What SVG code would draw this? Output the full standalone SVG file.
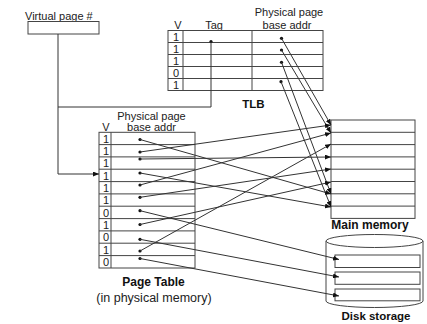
<svg xmlns="http://www.w3.org/2000/svg" width="427" height="324" viewBox="0 0 427 324">
<defs>
<style>
.box{fill:#fff;stroke:#444;stroke-width:1}
.ln{fill:none;stroke:#444;stroke-width:1}
.cn{fill:none;stroke:#333;stroke-width:1}
.t{font-family:"Liberation Sans",Arial,sans-serif;font-size:11px;fill:#222}
.b{font-family:"Liberation Sans",Arial,sans-serif;font-weight:bold;font-size:12px;fill:#111}
.m{text-anchor:middle}
.d{fill:#111}
</style>
<marker id="ah" markerUnits="userSpaceOnUse" markerWidth="6" markerHeight="5" refX="6" refY="2.5" orient="auto">
<path d="M0,0 L6,2.5 L0,5 z" fill="#111"/>
</marker>
</defs>
<rect width="427" height="324" fill="#fff"/>

<g id="virtual-page">
<text class="t" x="25" y="19.5">Virtual page #</text>
<rect class="box" x="28" y="21.5" width="71" height="12.5"/>
</g>

<g id="tlb">
<text class="t m" x="178" y="28.5">V</text>
<text class="t m" x="214" y="28.5">Tag</text>
<text class="t m" x="289" y="16">Physical page</text>
<text class="t m" x="287" y="28.5">base addr</text>
<rect class="box" x="168" y="30.5" width="155" height="60"/>
<path class="ln" d="M168,42.5H323M168,54.5H323M168,66.5H323M168,78.5H323M183,30.5V90.5M252,30.5V90.5"/>
<text class="t m" x="176" y="41">1</text>
<text class="t m" x="176" y="53">1</text>
<text class="t m" x="176" y="65">1</text>
<text class="t m" x="176" y="77">0</text>
<text class="t m" x="176" y="89">1</text>
<circle class="d" cx="211" cy="41.5" r="1.6"/>
<circle class="d" cx="281.5" cy="38.3" r="1.6"/>
<circle class="d" cx="281.5" cy="50" r="1.6"/>
<circle class="d" cx="281.5" cy="62.3" r="1.6"/>
<circle class="d" cx="281" cy="81.7" r="1.6"/>
<text class="b m" x="253.5" y="107.5" style="font-size:11.5px">TLB</text>
</g>

<g id="page-table">
<text class="t m" x="151.5" y="119.5">Physical page</text>
<text class="t m" x="151.5" y="130.5">base addr</text>
<text class="t m" x="106" y="130.5">V</text>
<rect class="box" x="99" y="132.3" width="96" height="135.7"/>
<path class="ln" d="M99,144.6H195M99,156.9H195M99,169.2H195M99,181.6H195M99,193.9H195M99,206.2H195M99,218.6H195M99,230.9H195M99,243.2H195M99,255.6H195M111,132.3V268"/>
<text class="t m" x="106" y="142.6">1</text>
<text class="t m" x="106" y="154.9">1</text>
<text class="t m" x="106" y="167.2">1</text>
<text class="t m" x="106" y="179.6">1</text>
<text class="t m" x="106" y="191.9">1</text>
<text class="t m" x="106" y="204.2">1</text>
<text class="t m" x="106" y="216.6">0</text>
<text class="t m" x="106" y="228.9">1</text>
<text class="t m" x="106" y="241.2">0</text>
<text class="t m" x="106" y="253.6">1</text>
<text class="t m" x="106" y="265.9">0</text>
<circle class="d" cx="140" cy="139.5" r="1.6"/>
<circle class="d" cx="140" cy="152" r="1.6"/>
<circle class="d" cx="140" cy="159" r="1.6"/>
<circle class="d" cx="140" cy="173" r="1.6"/>
<circle class="d" cx="140" cy="185" r="1.6"/>
<circle class="d" cx="140" cy="197.3" r="1.6"/>
<circle class="d" cx="140" cy="210.7" r="1.6"/>
<circle class="d" cx="140" cy="224.5" r="1.6"/>
<circle class="d" cx="140" cy="239.3" r="1.6"/>
<circle class="d" cx="140" cy="251" r="1.6"/>
<circle class="d" cx="140" cy="258.5" r="1.6"/>
<text class="b m" x="153.5" y="286">Page Table</text>
<text class="t m" x="154" y="301.5" style="font-size:12.5px">(in physical memory)</text>
</g>

<g id="main-memory">
<rect class="box" x="331" y="120" width="84" height="98.4"/>
<path class="ln" d="M331,132.3H415M331,144.6H415M331,156.9H415M331,169.2H415M331,181.5H415M331,193.8H415M331,206.1H415"/>
<text class="b m" x="370" y="228.5">Main memory</text>
</g>

<g id="disk-storage">
<path class="box" d="M326,241 V301 A48.5,6.5 0 0 0 423,301 V241"/>
<ellipse class="box" cx="374.5" cy="241" rx="48.5" ry="6.5"/>
<rect class="box" x="335" y="255" width="85" height="12.5"/>
<rect class="box" x="335" y="272" width="85" height="12.3"/>
<rect class="box" x="335" y="289" width="85" height="11.8"/>
<text class="b m" x="376" y="320" style="font-size:11.5px">Disk storage</text>
</g>

<g id="connectors">
<path class="cn" d="M58,34 V174 H99" marker-end="url(#ah)"/>
<path class="cn" d="M58,107 H211 V41.5"/>
<line class="cn" x1="281.5" y1="38.3" x2="331" y2="125" marker-end="url(#ah)"/>
<line class="cn" x1="281.5" y1="50" x2="331" y2="133" marker-end="url(#ah)"/>
<line class="cn" x1="281.5" y1="62.3" x2="331" y2="194" marker-end="url(#ah)"/>
<line class="cn" x1="281" y1="81.7" x2="331" y2="207" marker-end="url(#ah)"/>
<line class="cn" x1="140" y1="139.5" x2="331" y2="194" marker-end="url(#ah)"/>
<line class="cn" x1="140" y1="152" x2="331" y2="125" marker-end="url(#ah)"/>
<line class="cn" x1="140" y1="159" x2="331" y2="157" marker-end="url(#ah)"/>
<line class="cn" x1="140" y1="173" x2="331" y2="207" marker-end="url(#ah)"/>
<line class="cn" x1="140" y1="185" x2="331" y2="133" marker-end="url(#ah)"/>
<line class="cn" x1="140" y1="197.3" x2="331" y2="169" marker-end="url(#ah)"/>
<line class="cn" x1="140" y1="224.5" x2="331" y2="182" marker-end="url(#ah)"/>
<line class="cn" x1="140" y1="251" x2="331" y2="144" marker-end="url(#ah)"/>
<line class="cn" x1="140" y1="210.7" x2="339" y2="259.5" marker-end="url(#ah)"/>
<line class="cn" x1="140" y1="239.3" x2="339" y2="277" marker-end="url(#ah)"/>
<line class="cn" x1="140" y1="258.5" x2="339" y2="296" marker-end="url(#ah)"/>
</g>
</svg>
